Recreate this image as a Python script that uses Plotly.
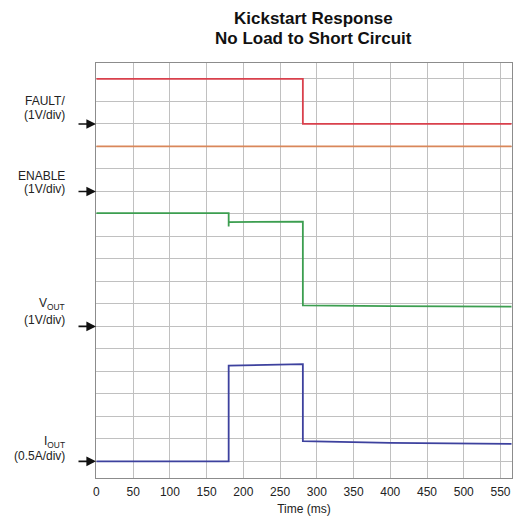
import plotly.graph_objects as go

# ---- data (physical units) ----
fault_t = [0, 281, 281, 565]
fault_v = [2.0, 2.0, 0.0, 0.0]

enable_t = [0, 565]
enable_v = [2.0, 2.0]

vout_t = [0, 180, 180, 180, 281, 281, 400, 565]
vout_v = [5.04, 5.04, 4.44, 4.64, 4.66, 0.93, 0.90, 0.88]

iout_t = [0, 180, 180, 281, 281, 400, 565]
iout_a = [0.0, 0.0, 2.13, 2.16, 0.45, 0.41, 0.39]

x_ticks = [0, 50, 100, 150, 200, 250, 300, 350, 400, 450, 500, 550]

# channel config: (name, times, values, units-per-div, ground division, colour)
channels = [
    ("FAULT", fault_t, fault_v, 1.0, 15, "#d9404c"),
    ("ENABLE", enable_t, enable_v, 1.0, 12, "#d9875a"),
    ("VOUT", vout_t, vout_v, 1.0, 6, "#3c9e50"),
    ("IOUT", iout_t, iout_a, 0.5, 0, "#3d419e"),
]
# label lines per channel with their pixel offsets above the ground arrow
labels = [
    (15, "FAULT/", 23, "(1V/div)", 9),
    (12, "ENABLE", 15.5, "(1V/div)", 2),
    (6, "V<sub>OUT</sub>", 22.5, "(1V/div)", 6.5),
    (0, "I<sub>OUT</sub>", 19.5, "(0.5A/div)", 5.5),
]

FONT = "Liberation Sans, Arial, sans-serif"

fig = go.Figure()
annotations = []
for name, t, v, scale, ground, color in channels:
    fig.add_trace(go.Scatter(
        x=t, y=[ground + val / scale for val in v], mode="lines", name=name,
        line=dict(color=color, width=1.8), hoverinfo="skip", showlegend=False))
    annotations.append(dict(
        x=0, xref="paper", y=ground, yref="y", text="", showarrow=True,
        ax=-19, ay=0, axref="pixel", ayref="pixel", arrowhead=2, arrowsize=1.2,
        arrowwidth=1.6, arrowcolor="#111111", standoff=0))

for ground, l1, s1, l2, s2 in labels:
    for txt, sh in ((l1, s1), (l2, s2)):
        annotations.append(dict(
            x=-0.069, xref="paper", y=ground, yref="y", xanchor="right",
            yanchor="middle", yshift=sh, text=txt, showarrow=False, align="right",
            font=dict(family=FONT, size=12, color="#222222")))

annotations.append(dict(x=0.522, xref="paper", y=1.0, yref="paper", yanchor="middle",
                        yshift=45, text="<b>Kickstart Response</b>", showarrow=False,
                        font=dict(family=FONT, size=17, color="#111111")))
annotations.append(dict(x=0.522, xref="paper", y=1.0, yref="paper", yanchor="middle",
                        yshift=25, text="<b>No Load to Short Circuit</b>", showarrow=False,
                        font=dict(family=FONT, size=17, color="#111111")))

fig.update_layout(
    width=516, height=525,
    margin=dict(l=96, r=4, t=63, b=47),
    paper_bgcolor="white", plot_bgcolor="white",
    annotations=annotations,
    hovermode=False,
    font=dict(family=FONT, size=12, color="#222222"),
    xaxis=dict(range=[-0.6, 565.7], tickvals=x_ticks, ticktext=[str(v) for v in x_ticks],
               showgrid=True, gridcolor="#c0c0c0", gridwidth=1, zeroline=False,
               showline=True, linecolor="#8c8c8c", linewidth=1, mirror=True,
               ticks="outside", ticklen=3, tickcolor="rgba(0,0,0,0)",
               tickfont=dict(family=FONT, size=12, color="#222222"),
               title=dict(text="Time (ms)", standoff=6,
                          font=dict(family=FONT, size=12, color="#222222"))),
    yaxis=dict(range=[-0.74, 17.71], dtick=1, tick0=0, showticklabels=False,
               showgrid=True, gridcolor="#c0c0c0", gridwidth=1, zeroline=False,
               showline=True, linecolor="#8c8c8c", linewidth=1, mirror=True),
)

fig.write_html("out.html", config={"displayModeBar": False},
               post_script="document.body.style.margin='0';document.body.style.overflow='hidden';")
